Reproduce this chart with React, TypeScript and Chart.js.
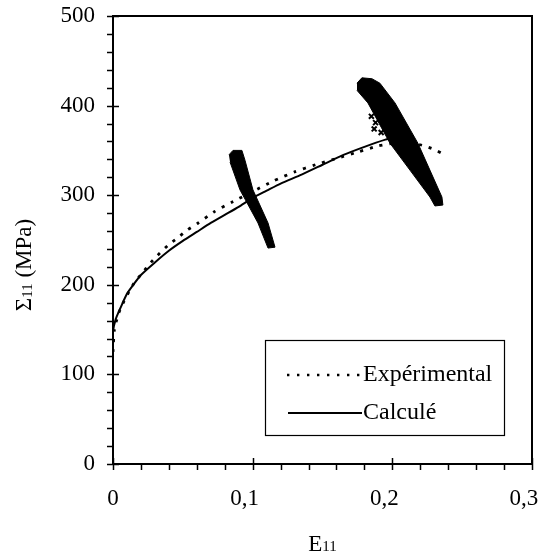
import React, { useEffect, useRef } from 'react';
import { Chart, registerables } from 'chart.js';

Chart.register(...registerables);

const FONT = '"Liberation Serif", "Times New Roman", serif';

// Axis ranges / ticks
const xMin = 0;
const xMax = 0.3;
const xStep = 0.1;
const xMinorStep = 0.02;
const yMin = 0;
const yMax = 500;
const yStep = 100;
const yMinorStep = 20;

// Legend labels
const legendLabels = ['Expérimental', 'Calculé'];

// "Calculé" (solid) curve
const calcX = [0, 0, 0.002, 0.005, 0.01, 0.015, 0.02, 0.03, 0.04, 0.05, 0.06, 0.07, 0.08, 0.09, 0.1, 0.11, 0.12, 0.135, 0.15, 0.165, 0.18, 0.195, 0.205];
const calcY = [125, 148, 162, 173, 190, 201, 211, 225, 238, 249, 259, 269, 278, 287, 297, 305, 313, 323, 334, 345, 354, 362, 366];

// "Expérimental" (dotted) curve
const expX = [0, 0.001, 0.004, 0.008, 0.012, 0.016, 0.021, 0.026, 0.032, 0.04, 0.046, 0.053, 0.061, 0.072, 0.086, 0.1, 0.115, 0.13, 0.145, 0.16, 0.175, 0.19, 0.205, 0.215, 0.223, 0.23, 0.235];
const expY = [125, 150, 168, 182, 194, 204, 213, 223, 233, 245, 252, 261, 269, 281, 293, 304, 316, 326, 334, 341, 348, 355, 359, 358, 355, 351, 347];

// Dense measurement bands (outline of the marker clouds)
const band1X = [0.083, 0.0859, 0.0923, 0.0945, 0.1002, 0.111, 0.116, 0.111, 0.1038, 0.0909, 0.0838];
const band1Y = [345, 350, 350, 339, 306, 269, 242, 241, 269, 306, 337];

const band2X = [0.1747, 0.1782, 0.1854, 0.1911, 0.2019, 0.2183, 0.2269, 0.2355, 0.2362, 0.2305, 0.2269, 0.2126, 0.1983, 0.1825, 0.1747];
const band2Y = [425, 431, 430, 425, 403, 358, 328, 298, 289, 288, 298, 328, 358, 403, 417];

// Scattered "x" markers at the left edge of the second band
const scatterX = [0.185, 0.188, 0.19, 0.187, 0.192];
const scatterY = [388, 381, 391, 374, 370];

const toPts = (xs: number[], ys: number[]) => xs.map((x, i) => ({ x, y: ys[i] }));

const fmt = (v: number) => (Math.abs(v) < 1e-9 ? '0' : v.toFixed(1).replace('.', ',') + '\u2002\u2009');

const decorPlugin = {
  id: 'decor',
  afterDraw(chart: any) {
    const { ctx, chartArea: ca, scales } = chart;
    const xs = scales.x;
    const ys = scales.y;
    ctx.save();
    ctx.strokeStyle = '#000';
    ctx.fillStyle = '#000';

    // Frame
    ctx.lineWidth = 2;
    ctx.strokeRect(ca.left, ca.top, ca.right - ca.left, ca.bottom - ca.top);

    // Y ticks
    ctx.lineWidth = 1.5;
    for (let v = yMin; v <= yMax + 1e-9; v += yMinorStep) {
      const p = Math.round(ys.getPixelForValue(v)) + 0.5;
      const major = Math.abs(v / yStep - Math.round(v / yStep)) < 1e-6;
      ctx.beginPath();
      ctx.moveTo(ca.left - 6, p);
      ctx.lineTo(major ? ca.left + 6 : ca.left, p);
      ctx.stroke();
    }
    // X ticks
    const nx = Math.round((xMax - xMin) / xMinorStep);
    for (let i = 0; i <= nx; i++) {
      const v = xMin + i * xMinorStep;
      const p = Math.round(xs.getPixelForValue(v)) + 0.5;
      const major = i % Math.round(xStep / xMinorStep) === 0;
      ctx.beginPath();
      ctx.moveTo(p, major ? ca.bottom - 6 : ca.bottom);
      ctx.lineTo(p, ca.bottom + 6);
      ctx.stroke();
    }

    // Legend box
    const lx = ca.left + 152;
    const ly = ca.top + 324;
    const lw = 239;
    const lh = 95;
    ctx.fillStyle = '#fff';
    ctx.fillRect(lx, ly, lw, lh);
    ctx.lineWidth = 1.2;
    ctx.strokeRect(lx + 0.5, ly + 0.5, lw, lh);
    ctx.fillStyle = '#000';
    ctx.font = `24px ${FONT}`;
    ctx.textBaseline = 'middle';
    ctx.textAlign = 'left';
    // dotted sample
    ctx.lineWidth = 2.4;
    ctx.setLineDash([2.4, 7.6]);
    ctx.beginPath();
    ctx.moveTo(lx + 22, ly + 35);
    ctx.lineTo(lx + 95, ly + 35);
    ctx.stroke();
    ctx.setLineDash([]);
    ctx.fillText(legendLabels[0], lx + 98, ly + 35);
    // solid sample
    ctx.lineWidth = 2;
    ctx.beginPath();
    ctx.moveTo(lx + 23, ly + 73);
    ctx.lineTo(lx + 97, ly + 73);
    ctx.stroke();
    ctx.fillText(legendLabels[1], lx + 98, ly + 73);

    // X axis title: E11
    ctx.textBaseline = 'alphabetic';
    const cx = (ca.left + ca.right) / 2;
    ctx.font = `23px ${FONT}`;
    const wE = ctx.measureText('E').width;
    ctx.font = `15px ${FONT}`;
    const w11 = ctx.measureText('11').width;
    const sx = cx - (wE + w11) / 2;
    ctx.font = `23px ${FONT}`;
    ctx.fillText('E', sx, 551);
    ctx.font = `15px ${FONT}`;
    ctx.fillText('11', sx + wE, 551);

    // Y axis title: Σ11 (MPa)
    ctx.save();
    ctx.translate(31, 265);
    ctx.rotate(-Math.PI / 2);
    ctx.font = `23px ${FONT}`;
    const wS = ctx.measureText('\u03A3').width;
    const wM = ctx.measureText(' (MPa)').width;
    ctx.font = `15px ${FONT}`;
    const w11b = ctx.measureText('11').width;
    let tx = -(wS + w11b + wM) / 2;
    ctx.font = `23px ${FONT}`;
    ctx.fillText('\u03A3', tx, 0);
    tx += wS;
    ctx.font = `15px ${FONT}`;
    ctx.fillText('11', tx, 1);
    tx += w11b;
    ctx.font = `23px ${FONT}`;
    ctx.fillText(' (MPa)', tx, 0);
    ctx.restore();

    ctx.restore();
  },
};

export default function App() {
  const ref = useRef<HTMLCanvasElement | null>(null);
  useEffect(() => {
    if (!ref.current) return;
    const chart = new Chart(ref.current, {
      type: 'scatter',
      data: {
        datasets: [
          {
            label: 'band1',
            data: toPts(band1X, band1Y),
            showLine: true,
            fill: 'shape',
            backgroundColor: '#000',
            borderColor: '#000',
            borderWidth: 1,
            pointRadius: 0,
            order: 0,
          },
          {
            label: 'band2',
            data: toPts(band2X, band2Y),
            showLine: true,
            fill: 'shape',
            backgroundColor: '#000',
            borderColor: '#000',
            borderWidth: 1,
            pointRadius: 0,
            order: 0,
          },
          {
            label: 'scatter',
            data: toPts(scatterX, scatterY),
            showLine: false,
            pointStyle: 'crossRot',
            pointRadius: 3.5,
            borderColor: '#000',
            borderWidth: 2,
            order: 0,
          },
          {
            label: legendLabels[0],
            data: toPts(expX, expY),
            showLine: true,
            borderColor: '#000',
            borderWidth: 2.8,
            borderDash: [3, 7],
            pointRadius: 0,
            tension: 0.2,
            order: 1,
          },
          {
            label: legendLabels[1],
            data: toPts(calcX, calcY),
            showLine: true,
            borderColor: '#000',
            borderWidth: 2,
            pointRadius: 0,
            tension: 0.2,
            order: 1,
          },
        ],
      },
      options: {
        animation: false,
        responsive: true,
        maintainAspectRatio: false,
        layout: { padding: { left: 0, top: 16, right: 18, bottom: 0 } },
        plugins: {
          legend: { display: false },
          tooltip: { enabled: false },
        },
        scales: {
          x: {
            type: 'linear',
            min: xMin,
            max: xMax,
            afterFit: (s: any) => {
              s.height = 92;
              s.paddingLeft = 0;
              s.paddingRight = 0;
            },
            ticks: {
              stepSize: xStep,
              color: '#000',
              font: { family: FONT, size: 23 },
              padding: 21,
              callback: (v: any) => fmt(Number(v)),
            },
            grid: { drawOnChartArea: false, drawTicks: false },
            border: { display: false },
          },
          y: {
            type: 'linear',
            min: yMin,
            max: yMax,
            afterFit: (s: any) => {
              s.width = 113;
              s.paddingTop = 0;
              s.paddingBottom = 0;
            },
            ticks: {
              stepSize: yStep,
              color: '#000',
              font: { family: FONT, size: 23 },
              padding: 18,
              callback: (v: any) => String(v),
            },
            grid: { drawOnChartArea: false, drawTicks: false },
            border: { display: false },
          },
        },
      },
      plugins: [decorPlugin],
    });
    return () => chart.destroy();
  }, []);
  return (
    <div style={{ position: 'absolute', left: 0, top: 0, width: 550, height: 556, background: '#fff' }}>
      <canvas ref={ref} />
    </div>
  );
}
